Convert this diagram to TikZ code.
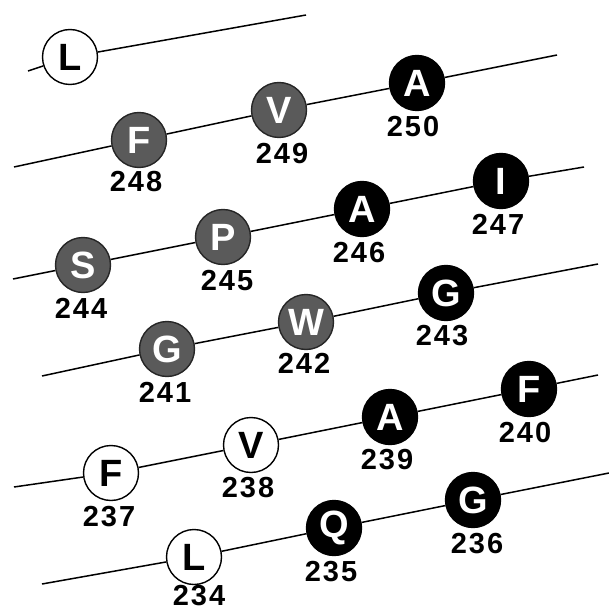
\documentclass[tikz,border=0pt]{standalone}
\usepackage{fontspec}
\setmainfont{Liberation Sans}
\definecolor{resgrey}{HTML}{5A5A5A}
\begin{document}
\begin{tikzpicture}[x=1pt,y=-1pt,
  res/.style={circle,draw=black,line width=1.4pt,minimum size=55pt,inner sep=0pt,
              font=\fontsize{38}{38}\selectfont\bfseries},
  wres/.style={res,fill=white,text=black},
  gres/.style={res,fill=resgrey,text=white,draw=black!85},
  bres/.style={res,fill=black,text=white},
  num/.style={inner sep=0pt,font=\fontsize{29}{29}\selectfont\bfseries\addfontfeature{LetterSpace=7}},
  chain/.style={line width=1.5pt}]
\useasboundingbox (0,0) rectangle (609,612);

% row 1
\coordinate (a1) at (28,71);
\coordinate (b1) at (306,15);
\node[wres] (L251) at (70,57) {L};
% row 2
\coordinate (a2) at (14,167);
\coordinate (b2) at (557,55);
\node[gres] (F248) at (139,140) {F};
\node[gres] (V249) at (279,110) {V};
\node[bres] (A250) at (417,83) {A};
% row 3
\coordinate (a3) at (13,279);
\coordinate (b3) at (584,167);
\node[gres] (S244) at (83,265) {S};
\node[gres] (P245) at (223,237) {P};
\node[bres] (A246) at (362,209) {A};
\node[bres] (I247) at (501,181) {I};
% row 4
\coordinate (a4) at (42,376);
\coordinate (b4) at (598,264);
\node[gres] (G241) at (167,349) {G};
\node[gres] (W242) at (306,322) {W};
\node[bres] (G243) at (446,293) {G};
% row 5
\coordinate (a5) at (14,487);
\coordinate (b5) at (598,375);
\node[wres] (F237) at (111,473) {F};
\node[wres] (V238) at (251,445) {V};
\node[bres] (A239) at (390,417) {A};
\node[bres] (F240) at (529,389) {F};
% row 6
\coordinate (a6) at (42,584);
\coordinate (b6) at (609,473);
\node[wres] (L234) at (194,557) {L};
\node[bres] (Q235) at (334,528) {Q};
\node[bres] (G236) at (473,500) {G};

% chains
\draw[chain] (a1) -- (L251);
\draw[chain] (L251) -- (b1);
\draw[chain] (a2) -- (F248) -- (V249) -- (A250) -- (b2);
\draw[chain] (a3) -- (S244) -- (P245) -- (A246) -- (I247) -- (b3);
\draw[chain] (a4) -- (G241) -- (W242) -- (G243) -- (b4);
\draw[chain] (a5) -- (F237) -- (V238) -- (A239) -- (F240) -- (b5);
\draw[chain] (a6) -- (L234) -- (Q235) -- (G236) -- (b6);

% numbers
\node[num] (n248) at (136,182) {248};
\node[num] (n249) at (282,154) {249};
\node[num] (n250) at (413,127) {250};
\node[num] (n244) at (81,308) {244};
\node[num] (n245) at (227,281) {245};
\node[num] (n246) at (359,253) {246};
\node[num] (n247) at (498,224) {247};
\node[num] (n241) at (165,392) {241};
\node[num] (n242) at (304,363) {242};
\node[num] (n243) at (442,336) {243};
\node[num] (n237) at (109,517) {237};
\node[num] (n238) at (248,488) {238};
\node[num] (n239) at (387,460) {239};
\node[num] (n240) at (525,433) {240};
\node[num] (n234) at (199,596) {234};
\node[num] (n235) at (331,572) {235};
\node[num] (n236) at (477,544) {236};
\end{tikzpicture}
\end{document}
